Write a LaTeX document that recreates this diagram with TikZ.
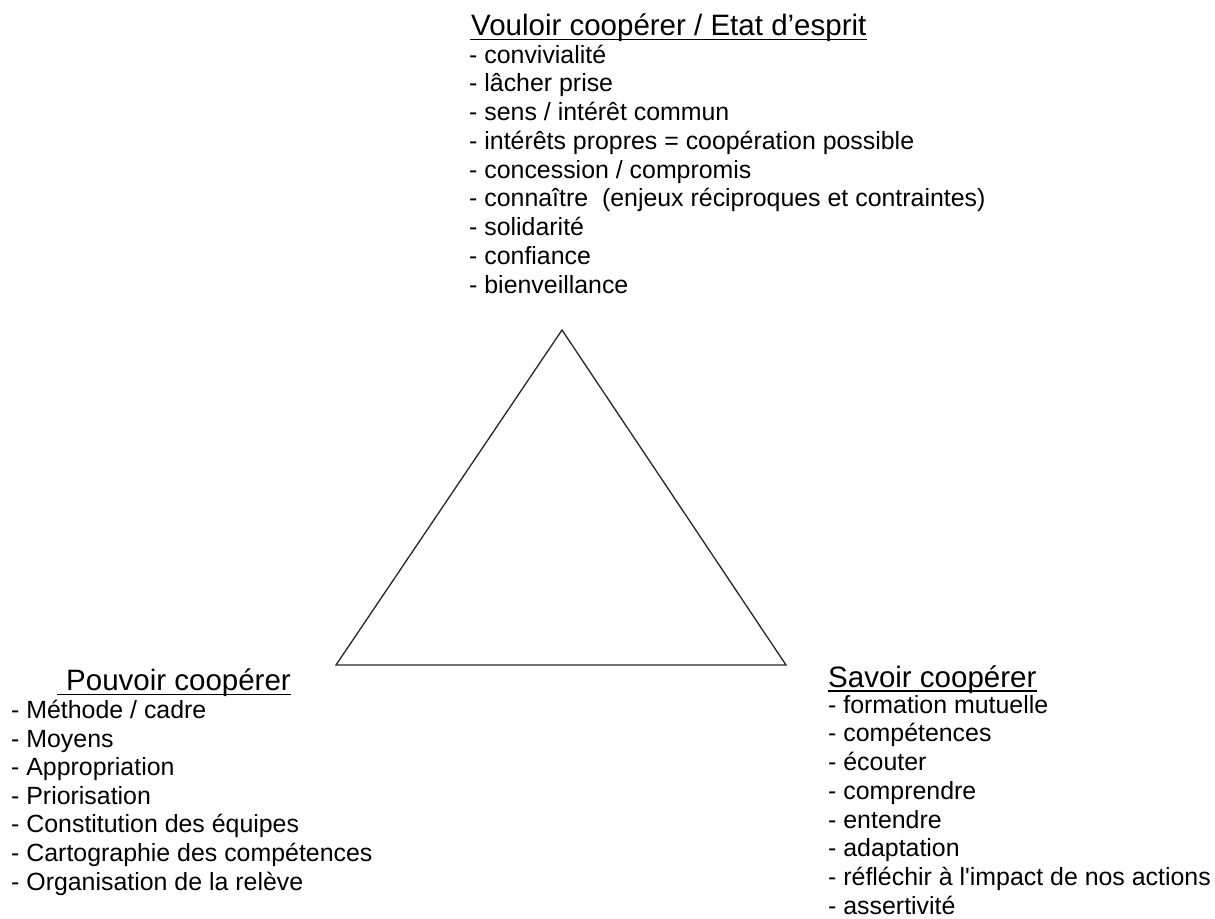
\documentclass[tikz,border=0pt]{standalone}
\usepackage{fontspec}
\setmainfont{Liberation Sans}
\newfontfamily\arial{Liberation Sans}
\begin{document}
\begin{tikzpicture}[x=1pt,y=-1pt,
  item/.style={anchor=base west,inner sep=0pt,font=\arial\fontsize{24.9}{28.75}\selectfont},
  head/.style={anchor=base west,inner sep=0pt,font=\arial\fontsize{29.5}{34}\selectfont},
  uline/.style={line width=1.8pt},
  tri/.style={line width=1.3pt,draw=black!85,line join=miter}]
\useasboundingbox (0,0) rectangle (1215,918);
% triangle
\coordinate (top) at (562,330);
\coordinate (bl) at (336,665);
\coordinate (br) at (786,665);
\draw[tri] (top) -- (bl) -- (br) -- cycle;
% Vouloir
\node[head] (vh) at (471,35) {Vouloir coopérer / Etat d’esprit};
\draw[uline] ([xshift=-1pt,yshift=-4.5pt]vh.base west) -- ([yshift=-4.5pt]vh.base east);
\foreach \t [count=\i from 0] in {- convivialité,- lâcher prise,- sens / intérêt commun,- intérêts propres = coopération possible,- concession / compromis,- connaître \ (enjeux réciproques et contraintes),- solidarité,- confiance,- bienveillance}
  \node[item] (v\i) at (469,63+\i*28.75) {\t};
% Pouvoir
\node[head] (ph) at (66,690.5) {Pouvoir coopérer};
\draw[uline] ([xshift=-9pt,yshift=-4pt]ph.base west) -- ([yshift=-4pt]ph.base east);
\foreach \t [count=\i from 0] in {- Méthode / cadre,- Moyens,- Appropriation,- Priorisation,- Constitution des équipes,- Cartographie des compétences,- Organisation de la relève}
  \node[item] (p\i) at (11,718.5+\i*28.6) {\t};
% Savoir
\node[head] (sh) at (828,687) {Savoir coopérer};
\draw[uline] ([yshift=-4pt]sh.base west) -- ([yshift=-4pt]sh.base east);
\foreach \t [count=\i from 0] in {- formation mutuelle,- compétences,- écouter,- comprendre,- entendre,- adaptation,- réfléchir à l'impact de nos actions,- assertivité}
  \node[item] (s\i) at (828,713+\i*28.75) {\t};
\end{tikzpicture}
\end{document}
